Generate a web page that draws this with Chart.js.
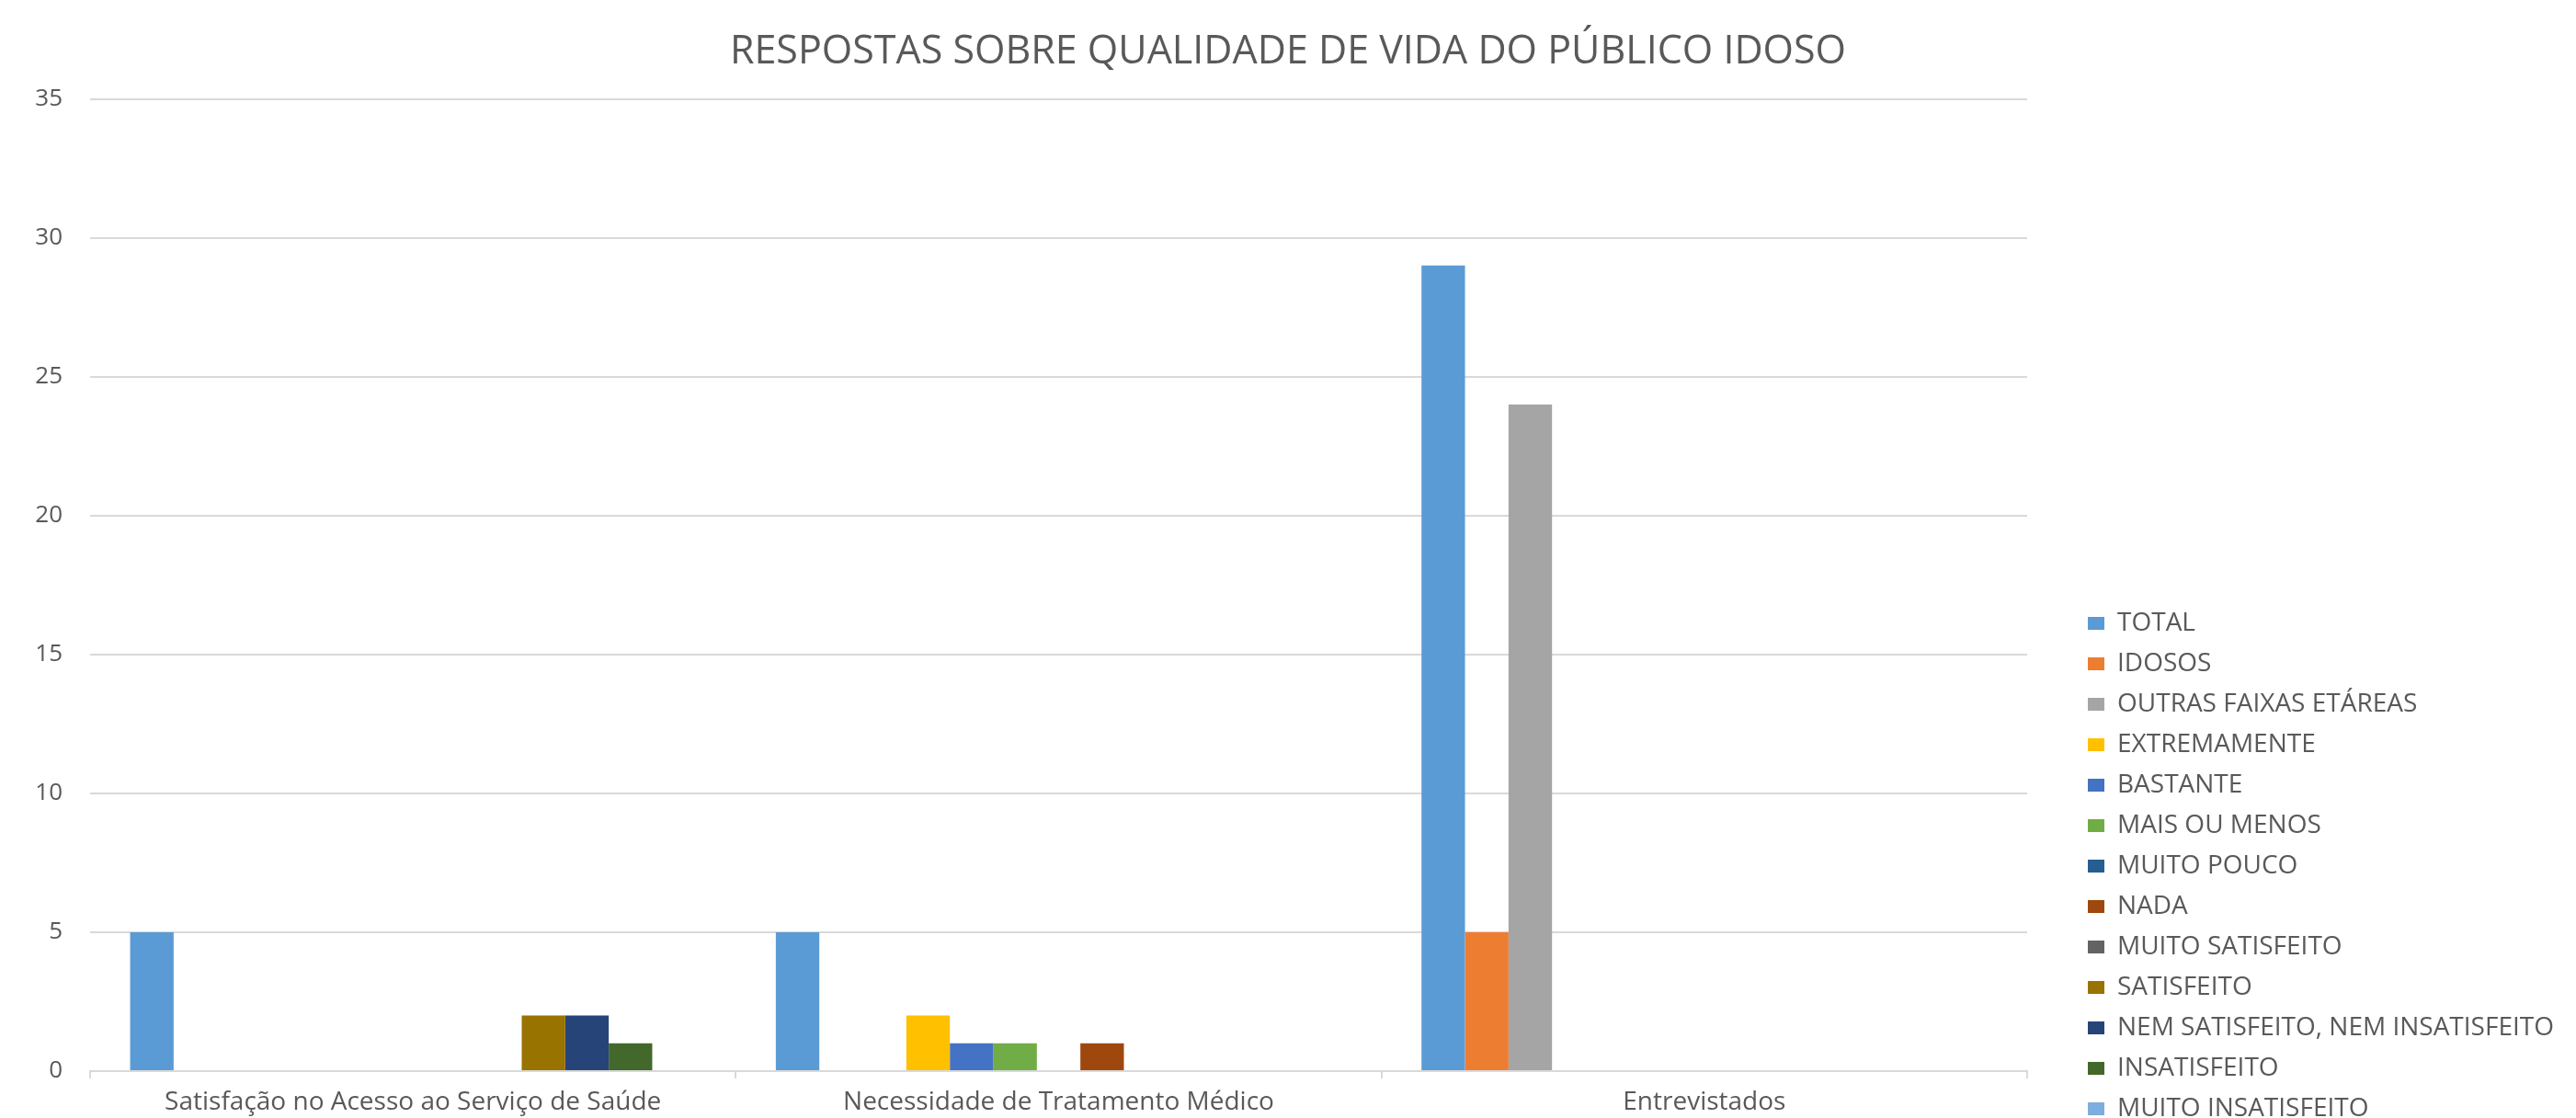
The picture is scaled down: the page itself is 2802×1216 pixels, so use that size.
<!DOCTYPE html>
<html>
<head>
<meta charset="utf-8">
<script src="https://cdn.jsdelivr.net/npm/chart.js@4"></script>
<style>
  html, body { margin: 0; padding: 0; background: #fff; overflow: hidden; }
  #wrap { width: 2802px; height: 1236px; }
</style>
</head>
<body>
<div id="wrap"><canvas id="myChart"></canvas></div>
<script>
var categories = [
  "Satisfação no Acesso ao Serviço de Saúde",
  "Necessidade de Tratamento Médico",
  "Entrevistados"
];

// one array per series, values for the three categories
var total = [5, 5, 29];
var idosos = [0, 0, 5];
var outrasFaixas = [0, 0, 24];
var extremamente = [0, 2, 0];
var bastante = [0, 1, 0];
var maisOuMenos = [0, 1, 0];
var muitoPouco = [0, 0, 0];
var nada = [0, 1, 0];
var muitoSatisfeito = [0, 0, 0];
var satisfeito = [2, 0, 0];
var nemNem = [2, 0, 0];
var insatisfeito = [1, 0, 0];
var muitoInsatisfeito = [0, 0, 0];

var seriesNames = [
  "TOTAL", "IDOSOS", "OUTRAS FAIXAS ETÁREAS", "EXTREMAMENTE", "BASTANTE",
  "MAIS OU MENOS", "MUITO POUCO", "NADA", "MUITO SATISFEITO", "SATISFEITO",
  "NEM SATISFEITO, NEM INSATISFEITO", "INSATISFEITO", "MUITO INSATISFEITO"
];
var seriesValues = [
  total, idosos, outrasFaixas, extremamente, bastante, maisOuMenos,
  muitoPouco, nada, muitoSatisfeito, satisfeito, nemNem, insatisfeito,
  muitoInsatisfeito
];
var seriesColors = [
  "#5B9BD5", "#ED7D31", "#A5A5A5", "#FFC000", "#4472C4", "#70AD47",
  "#255E91", "#9E480E", "#636363", "#997300", "#264478", "#43682B",
  "#7CAFDD"
];

var yTicks = [0, 5, 10, 15, 20, 25, 30, 35];

var textColor = "#595959";
var gridColor = "#D9D9D9";
var fontFamily = "'Open Sans', sans-serif";
var sidePad = 14;

var datasets = [];
for (var i = 0; i < seriesNames.length; i++) {
  datasets.push({
    label: seriesNames[i],
    data: seriesValues[i],
    backgroundColor: seriesColors[i],
    borderWidth: 0
  });
}

Chart.defaults.font.family = fontFamily;
Chart.defaults.color = textColor;

var ctx = document.getElementById("myChart").getContext("2d");
var myChart = new Chart(ctx, {
  type: "bar",
  data: { labels: categories, datasets: datasets },
  options: {
    responsive: true,
    maintainAspectRatio: false,
    animation: false,
    layout: { padding: { left: sidePad, top: 0, bottom: 0, right: sidePad } },
    datasets: {
      bar: { barPercentage: 1, categoryPercentage: 0.876 }
    },
    plugins: {
      title: {
        display: true,
        text: "RESPOSTAS SOBRE QUALIDADE DE VIDA DO PÚBLICO IDOSO",
        color: textColor,
        font: { size: 43, weight: "normal" },
        padding: { top: 31, bottom: 25 }
      },
      legend: {
        position: "right",
        align: "end",
        maxWidth: 700,
        labels: {
          boxWidth: 18,
          boxHeight: 14,
          padding: 16,
          color: textColor,
          font: { size: 28 }
        }
      },
      tooltip: { enabled: false }
    },
    scales: {
      x: {
        grid: {
          display: true,
          drawOnChartArea: false,
          drawTicks: true,
          tickLength: 8,
          color: gridColor,
          lineWidth: 2,
          offset: true
        },
        border: { display: true, color: gridColor, width: 2 },
        ticks: { color: textColor, font: { size: 28 }, padding: 9 },
        afterFit: function (scale) { scale.height = 71; }
      },
      y: {
        min: 0,
        max: 35,
        afterBuildTicks: function (scale) {
          scale.ticks = yTicks.map(function (v) { return { value: v }; });
        },
        grid: { color: gridColor, lineWidth: 2, drawTicks: false },
        border: { display: false },
        ticks: { color: textColor, font: { size: 26 }, padding: 30 },
        afterFit: function (scale) { scale.width = 98 - sidePad; }
      },
      // empty spacer between plot and legend
      gap: {
        type: "linear",
        position: "right",
        display: true,
        grid: { display: false },
        border: { display: false },
        ticks: { display: false },
        afterFit: function (scale) {
          var lw = scale.chart.legend ? scale.chart.legend.width : 553;
          scale.width = Math.max(0, 2802 - sidePad - 2205 - lw);
        }
      }
    }
  }
});
</script>
</body>
</html>
